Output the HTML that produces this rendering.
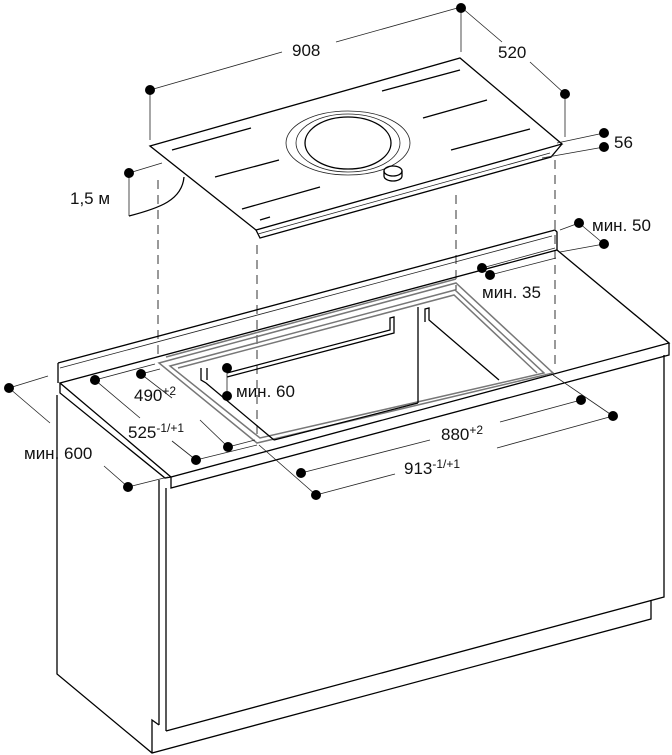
<!DOCTYPE html>
<html><head><meta charset="utf-8"><style>
html,body{margin:0;padding:0;background:#fff}
svg{display:block}
text{font-family:"Liberation Sans",sans-serif;font-size:17px;fill:#111}
.t{stroke:#000;stroke-width:1.3;fill:none}
.d{stroke:#222;stroke-width:0.8;fill:none}
.ds{stroke:#333;stroke-width:1;fill:none;stroke-dasharray:9 6}
.g{stroke:#777;stroke-width:1.5;fill:none}
</style></head><body>
<svg width="672" height="755" viewBox="0 0 672 755" xmlns="http://www.w3.org/2000/svg">
<line class="ds" x1="158" y1="180" x2="158" y2="360"/>
<line class="ds" x1="257" y1="245" x2="257" y2="440"/>
<line class="ds" x1="456" y1="195" x2="456" y2="290"/>
<line class="ds" x1="555" y1="160" x2="555" y2="370"/>

<polygon class="t" points="150,146 460,58 562,144 256,230" fill="#fff"/>
<polyline class="t" points="256,230 260,238 551,157 562,144"/>
<line class="d" x1="258" y1="234" x2="550" y2="153"/>
<ellipse class="d" cx="348" cy="143" rx="62" ry="32" stroke-width="1"/>
<ellipse class="d" cx="348" cy="143" rx="52" ry="29" stroke-width="1"/>
<ellipse class="t" cx="348" cy="143" rx="43" ry="26"/>
<ellipse class="t" cx="393" cy="171" rx="9" ry="5"/>
<path class="t" d="M384,171 v5 a9,5 0 0 0 18,0 v-5"/>
<g class="t" stroke-width="1.2">
<line x1="172" y1="150" x2="251" y2="128"/>
<line x1="215" y1="177" x2="279" y2="160"/>
<line x1="242" y1="209" x2="320" y2="187"/>
<line x1="260" y1="220" x2="270" y2="217"/>
<line x1="382" y1="91" x2="460" y2="70"/>
<line x1="423" y1="118" x2="487" y2="100"/>
<line x1="451" y1="150" x2="530" y2="129"/>
</g>
<line class="d" x1="150" y1="90" x2="150" y2="140"/>
<line class="d" x1="461" y1="7" x2="461" y2="52"/>
<line class="d" x1="565" y1="94" x2="565" y2="137"/>
<line class="d" x1="150" y1="90" x2="282" y2="52"/>
<line class="d" x1="336" y1="42" x2="461" y2="7"/>
<line class="d" x1="461" y1="7" x2="502" y2="42"/>
<line class="d" x1="530" y1="62" x2="565" y2="94"/>
<line class="d" x1="557" y1="143" x2="604" y2="133"/>
<line class="d" x1="542" y1="158" x2="604" y2="147"/>
<line class="d" x1="129" y1="173" x2="162" y2="163"/>
<path class="t" d="M184,177 C182,200 160,208 129,216"/>
<line class="d" x1="129" y1="173" x2="129" y2="216"/>
<text x="292" y="56">908</text>
<text x="498" y="58">520</text>
<text x="614" y="148">56</text>
<text x="70" y="204">1,5 м</text>

<polyline class="t" points="58,363 555,230 557,232 557,250"/>
<line class="t" x1="58" y1="363" x2="58" y2="383"/>
<line class="d" x1="60" y1="368" x2="552" y2="236"/>
<polygon class="t" points="60,383 557,250 669,343 171,477" fill="#fff"/>
<polyline class="t" points="60,383 60,393 165,478 171,477"/>
<polyline class="t" points="171,477 171,488 669,355 669,343"/>
<polyline class="t" points="57,395 57,674 152,753 651,619 651,600"/>
<line class="t" x1="159" y1="480" x2="159" y2="725"/>
<line class="t" x1="166" y1="488" x2="166" y2="731"/>
<polyline class="t" points="166,731 664,597 664,355"/>
<polyline class="t" points="152,753 152,720 159,725"/>

<polygon class="g" points="159,363 456,283 553,373 257,443" fill="#fff"/>
<polygon class="g" points="170,366 455,290 544,373 260,438" stroke-width="1"/>
<polyline class="g" stroke-width="1" points="166,357 456,279"/>
<polyline class="g" stroke-width="1" points="178,368 454,295 537,373"/>
<polyline class="t" points="201,368 201,380 206,383 274,440"/>
<polyline class="t" points="227,377 394,333 394,317 390,318 390,330 227,373"/>
<polyline class="t" points="425,322 425,309 429,308 429,320 499,380"/>
<line class="t" x1="418" y1="307" x2="418" y2="403"/>
<line class="t" x1="274" y1="440" x2="418" y2="403"/>
<line class="t" x1="207" y1="368" x2="207" y2="380"/>

<line class="d" x1="579" y1="223" x2="604" y2="244"/>
<line class="d" x1="560" y1="230" x2="579" y2="223"/>
<line class="d" x1="560" y1="252" x2="604" y2="244"/>
<line class="d" x1="482" y1="268" x2="490" y2="275"/>
<line class="d" x1="482" y1="268" x2="555" y2="248"/>
<line class="d" x1="490" y1="275" x2="556" y2="258"/>
<line class="d" x1="227" y1="368" x2="227" y2="396"/>
<line class="d" x1="95" y1="380" x2="155" y2="364"/>
<line class="d" x1="141" y1="374" x2="160" y2="369"/>
<line class="d" x1="95" y1="380" x2="140" y2="418"/>
<line class="d" x1="172" y1="441" x2="196" y2="460"/>
<line class="d" x1="141" y1="374" x2="172" y2="398"/>
<line class="d" x1="200" y1="420" x2="228" y2="447"/>
<line class="d" x1="196" y1="460" x2="257" y2="445"/>
<line class="d" x1="228" y1="447" x2="255" y2="440"/>
<line class="d" x1="9" y1="388" x2="48" y2="376"/>
<line class="d" x1="9" y1="388" x2="50" y2="423"/>
<line class="d" x1="104" y1="466" x2="128" y2="487"/>
<line class="d" x1="128" y1="487" x2="168" y2="477"/>
<line class="d" x1="553" y1="375" x2="613" y2="416"/>
<line class="d" x1="259" y1="445" x2="316" y2="495"/>
<line class="d" x1="301" y1="473" x2="430" y2="440"/>
<line class="d" x1="500" y1="422" x2="581" y2="400"/>
<line class="d" x1="316" y1="495" x2="395" y2="474"/>
<line class="d" x1="497" y1="448" x2="613" y2="416"/>
<g fill="#000">
<circle cx="150" cy="90" r="5"/><circle cx="461" cy="8" r="5"/><circle cx="565" cy="94" r="5"/>
<circle cx="604" cy="133" r="5"/><circle cx="604" cy="147" r="5"/><circle cx="129" cy="173" r="5"/>
<circle cx="579" cy="223" r="5"/><circle cx="604" cy="244" r="5"/>
<circle cx="482" cy="268" r="5"/><circle cx="490" cy="275" r="5"/>
<circle cx="95" cy="380" r="5"/><circle cx="141" cy="374" r="5"/>
<circle cx="228" cy="447" r="5"/><circle cx="196" cy="460" r="5"/>
<circle cx="227" cy="368" r="5"/><circle cx="227" cy="396" r="5"/>
<circle cx="581" cy="400" r="5"/><circle cx="301" cy="473" r="5"/>
<circle cx="613" cy="416" r="5"/><circle cx="316" cy="495" r="5"/>
<circle cx="9" cy="388" r="5"/><circle cx="128" cy="487" r="5"/>
</g>
<text x="592" y="231">мин. 50</text>
<text x="482" y="298">мин. 35</text>
<text x="236" y="397">мин. 60</text>
<text x="134" y="401">490<tspan font-size="12" dy="-6">+2</tspan></text>
<text x="128" y="438">525<tspan font-size="12" dy="-6">-1/+1</tspan></text>
<text x="441" y="440">880<tspan font-size="12" dy="-6">+2</tspan></text>
<text x="404" y="474">913<tspan font-size="12" dy="-6">-1/+1</tspan></text>
<text x="24" y="459">мин. 600</text>
</svg>
</body></html>
